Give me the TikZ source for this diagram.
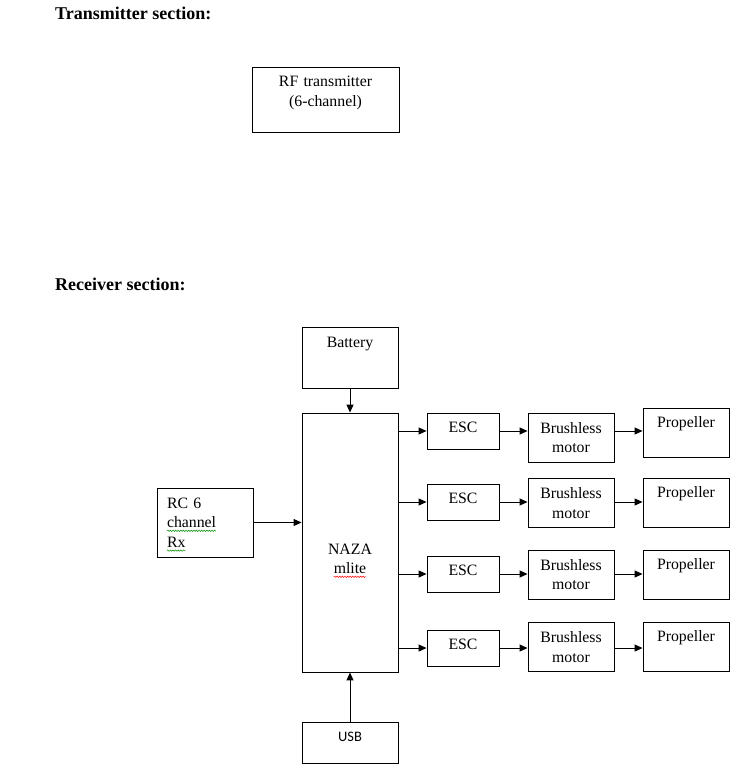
\documentclass[tikz,border=0pt]{standalone}
\usepackage{fontspec}
\setmainfont{Liberation Serif}
\newfontfamily\usbfont{Carlito}
\usetikzlibrary{arrows.meta,decorations.pathmorphing}

% spell-check style wavy underline
\newcommand\wavy[2]{\leavevmode\setbox0\hbox{#2}\rlap{\tikz[overlay,baseline=0pt]\draw[#1, line width=0.5pt, decorate, decoration={snake, amplitude=0.7pt, segment length=2.6pt}] (0pt,-3pt) -- (\wd0,-3pt);}\box0}

\begin{document}
\begin{tikzpicture}[
  x=1pt, y=-1pt,
  font=\fontsize{15.8}{19.8}\selectfont,
  head/.style={anchor=base west, inner sep=0pt, font=\fontsize{18}{22}\selectfont\bfseries},
  blk/.style={draw, line width=0.9pt, inner sep=0pt, align=center},
  escbox/.style={blk, text width=72pt, text height=19pt, text depth=17pt},
  motorbox/.style={blk, text width=86pt, text height=20pt, text depth=29pt},
  propbox/.style={blk, text width=86pt, text height=19pt, text depth=30pt},
  arr/.style={-{Triangle[length=8pt,width=7pt]}, line width=1pt}
]
\useasboundingbox (0,0) rectangle (738,781);

\node[head] (txhead) at (55,20) {Transmitter section:};
\node[blk, text width=147pt, text height=20pt, text depth=45pt] (rftx) at (325.5,99.5) {RF transmitter\\(6-channel)};

\node[head] (rxhead) at (55,290) {Receiver section:};
\node[blk, text width=96pt, text height=20pt, text depth=41pt] (bat) at (350,357.5) {Battery};
\node[blk, text width=96pt, text height=141pt, text depth=118pt] (naza) at (350,542.5) {NAZA\\\wavy{red}{mlite}};
\node[blk, text width=76pt, inner xsep=10pt, align=left, text height=20pt, text depth=49pt] (rc) at (205,522.5) {RC 6\\\wavy{green!55!black}{channel}\\\wavy{green!55!black}{Rx}};
\node[blk, text width=96pt, text height=19pt, text depth=22pt, font=\usbfont\fontsize{14.5}{17}\selectfont] (usb) at (350,742.5) {USB};

\node[escbox] (esc1) at (463,431) {ESC};
\node[escbox] (esc2) at (463,502) {ESC};
\node[escbox] (esc3) at (463,574) {ESC};
\node[escbox] (esc4) at (463,648) {ESC};

\node[motorbox] (mot1) at (571,437.5) {Brushless\\motor};
\node[motorbox] (mot2) at (571,503) {Brushless\\motor};
\node[motorbox] (mot3) at (571,574.5) {Brushless\\motor};
\node[motorbox] (mot4) at (571,647) {Brushless\\motor};

\node[propbox] (prop1) at (686,432.5) {Propeller};
\node[propbox] (prop2) at (686,503) {Propeller};
\node[propbox] (prop3) at (686,574.5) {Propeller};
\node[propbox] (prop4) at (686,647) {Propeller};

\draw[arr] (bat) -- (naza);
\draw[arr] (usb) -- (naza);
\draw[arr] (rc) -- (rc -| naza.west);

\draw[arr] (naza.east |- esc1) -- (esc1);
\draw[arr] (naza.east |- esc2) -- (esc2);
\draw[arr] (naza.east |- esc3) -- (esc3);
\draw[arr] (naza.east |- esc4) -- (esc4);

\draw[arr] (esc1) -- (esc1 -| mot1.west);
\draw[arr] (esc2) -- (esc2 -| mot2.west);
\draw[arr] (esc3) -- (esc3 -| mot3.west);
\draw[arr] (esc4) -- (esc4 -| mot4.west);

\draw[arr] (mot1.east |- esc1) -- (esc1 -| prop1.west);
\draw[arr] (mot2.east |- esc2) -- (esc2 -| prop2.west);
\draw[arr] (mot3.east |- esc3) -- (esc3 -| prop3.west);
\draw[arr] (mot4.east |- esc4) -- (esc4 -| prop4.west);
\end{tikzpicture}
\end{document}
